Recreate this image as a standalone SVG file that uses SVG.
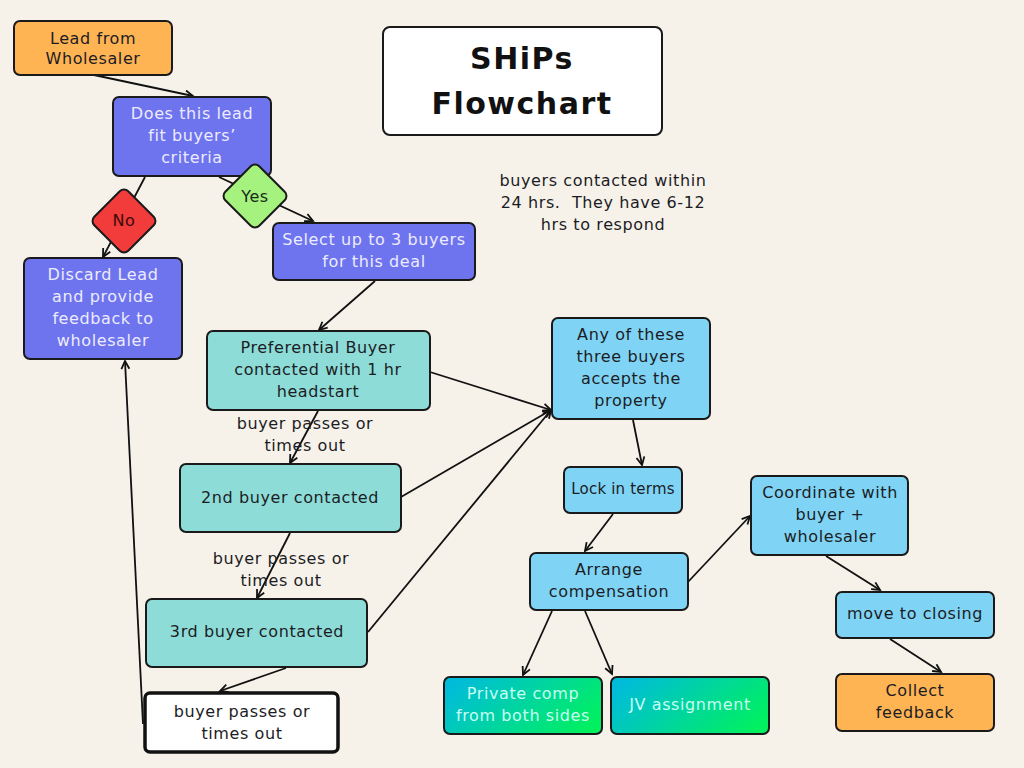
<svg xmlns="http://www.w3.org/2000/svg" width="1024" height="768" viewBox="0 0 1024 768">
<defs>
<marker id="arr" markerWidth="12" markerHeight="12" refX="9" refY="5" orient="auto" markerUnits="userSpaceOnUse">
<path d="M1,1 L9,5 L1,9" fill="none" stroke="#111" stroke-width="1.8"/>
</marker>
<linearGradient id="grad" x1="0" y1="0.3" x2="1" y2="0.7">
<stop offset="0" stop-color="#00bcd9"/>
<stop offset="1" stop-color="#00f060"/>
</linearGradient>
<style>
.box{stroke:#1a1a1a;stroke-width:2}
.orange{fill:#ffb454}
.purple{fill:#6e74ee}
.teal{fill:#8ddcd8}
.blue{fill:#7fd4f5}
.grad{fill:url(#grad)}
.t{font-family:"DejaVu Sans",sans-serif;font-size:16px;text-anchor:middle;letter-spacing:0.6px}
.dark{fill:#1c1c24}
.light{fill:#ecebff}
.gl{fill:#c8fff2}
.conn line{stroke:#111;stroke-width:1.8;marker-end:url(#arr)}
</style>
</defs>
<rect width="1024" height="768" fill="#f6f2ea"/>

<g class="conn" id="connectors">
<line x1="94" y1="75" x2="193" y2="96"/>
<line x1="145" y1="177" x2="103" y2="257"/>
<line x1="219" y1="177" x2="313" y2="221"/>
<line x1="375" y1="281" x2="319" y2="330"/>
<line x1="430" y1="372" x2="551" y2="410"/>
<line x1="318" y1="411" x2="290" y2="463"/>
<line x1="401" y1="497" x2="551" y2="410"/>
<line x1="290" y1="533" x2="257" y2="598"/>
<line x1="368" y1="632" x2="551" y2="410"/>
<line x1="286" y1="668" x2="220" y2="691"/>
<line x1="143" y1="724" x2="125" y2="361"/>
<line x1="633" y1="420" x2="642" y2="465"/>
<line x1="613" y1="514" x2="585" y2="551"/>
<line x1="688" y1="582" x2="750" y2="516"/>
<line x1="552" y1="611" x2="523" y2="675"/>
<line x1="585" y1="611" x2="612" y2="674"/>
<line x1="826" y1="556" x2="880" y2="590"/>
<line x1="890" y1="639" x2="941" y2="672"/>
</g>

<g id="title">
<rect x="383" y="27" width="279" height="108" rx="7" fill="#ffffff" class="box"/>
<text x="522" y="69" font-family="DejaVu Sans,sans-serif" font-size="30" font-weight="bold" text-anchor="middle" letter-spacing="1.5" fill="#111">SHiPs</text>
<text x="522" y="114" font-family="DejaVu Sans,sans-serif" font-size="30" font-weight="bold" text-anchor="middle" letter-spacing="1.5" fill="#111">Flowchart</text>
</g>

<g id="note">
<text class="t dark" x="603" y="186">buyers contacted within</text>
<text class="t dark" x="603" y="208" xml:space="preserve">24 hrs.  They have 6-12</text>
<text class="t dark" x="603" y="230">hrs to respond</text>
</g>

<g id="lead">
<rect x="14" y="21" width="158" height="54" rx="6" class="box orange"/>
<text class="t dark" x="93" y="44">Lead from</text>
<text class="t dark" x="93" y="64">Wholesaler</text>
</g>

<g id="fit">
<rect x="113" y="97" width="158" height="79" rx="6" class="box purple"/>
<text class="t light" x="192" y="119">Does this lead</text>
<text class="t light" x="192" y="141">fit buyers’</text>
<text class="t light" x="192" y="163">criteria</text>
</g>

<g id="no">
<rect x="100" y="197" width="48" height="48" rx="6" transform="rotate(45 124 221)" fill="#f23b3b" class="box"/>
<text class="t" x="124" y="226" fill="#3a0a0a">No</text>
</g>

<g id="yes">
<rect x="231" y="172" width="48" height="48" rx="6" transform="rotate(45 255 196)" fill="#a5f27e" class="box"/>
<text class="t" x="255" y="202" fill="#1a2a1a">Yes</text>
</g>

<g id="discard">
<rect x="24" y="258" width="158" height="101" rx="6" class="box purple"/>
<text class="t light" x="103" y="280">Discard Lead</text>
<text class="t light" x="103" y="302">and provide</text>
<text class="t light" x="103" y="324">feedback to</text>
<text class="t light" x="103" y="346">wholesaler</text>
</g>

<g id="select">
<rect x="273" y="223" width="202" height="57" rx="6" class="box purple"/>
<text class="t light" x="374" y="245">Select up to 3 buyers</text>
<text class="t light" x="374" y="267">for this deal</text>
</g>

<g id="preferential">
<rect x="207" y="331" width="223" height="79" rx="6" class="box teal"/>
<text class="t dark" x="318" y="353">Preferential Buyer</text>
<text class="t dark" x="318" y="375">contacted with 1 hr</text>
<text class="t dark" x="318" y="397">headstart</text>
</g>

<g id="label1">
<text class="t dark" x="305" y="429">buyer passes or</text>
<text class="t dark" x="305" y="451">times out</text>
</g>

<g id="second">
<rect x="180" y="464" width="221" height="68" rx="6" class="box teal"/>
<text class="t dark" x="290" y="503">2nd buyer contacted</text>
</g>

<g id="label2">
<text class="t dark" x="281" y="564">buyer passes or</text>
<text class="t dark" x="281" y="586">times out</text>
</g>

<g id="third">
<rect x="146" y="599" width="221" height="68" rx="6" class="box teal"/>
<text class="t dark" x="257" y="637">3rd buyer contacted</text>
</g>

<g id="passes">
<rect x="145" y="693" width="193" height="59" rx="5" fill="#ffffff" stroke="#111" stroke-width="3.5"/>
<text class="t dark" x="242" y="717">buyer passes or</text>
<text class="t dark" x="242" y="739">times out</text>
</g>

<g id="any">
<rect x="552" y="318" width="158" height="101" rx="6" class="box blue"/>
<text class="t dark" x="631" y="340">Any of these</text>
<text class="t dark" x="631" y="362">three buyers</text>
<text class="t dark" x="631" y="384">accepts the</text>
<text class="t dark" x="631" y="406">property</text>
</g>

<g id="lock">
<rect x="564" y="467" width="118" height="46" rx="6" class="box blue"/>
<text class="t dark" x="623" y="494" style="font-size:15px;letter-spacing:0.2px">Lock in terms</text>
</g>

<g id="coordinate">
<rect x="751" y="476" width="157" height="79" rx="6" class="box blue"/>
<text class="t dark" x="830" y="498">Coordinate with</text>
<text class="t dark" x="830" y="520">buyer +</text>
<text class="t dark" x="830" y="542">wholesaler</text>
</g>

<g id="arrange">
<rect x="530" y="553" width="158" height="57" rx="6" class="box blue"/>
<text class="t dark" x="609" y="575">Arrange</text>
<text class="t dark" x="609" y="597">compensation</text>
</g>

<g id="closing">
<rect x="836" y="592" width="158" height="46" rx="6" class="box blue"/>
<text class="t dark" x="915" y="619">move to closing</text>
</g>

<g id="private">
<rect x="444" y="677" width="158" height="57" rx="6" class="box grad"/>
<text class="t gl" x="523" y="699">Private comp</text>
<text class="t gl" x="523" y="721">from both sides</text>
</g>

<g id="jv">
<rect x="611" y="677" width="158" height="57" rx="6" class="box grad"/>
<text class="t gl" x="690" y="710">JV assignment</text>
</g>

<g id="collect">
<rect x="836" y="674" width="158" height="57" rx="6" class="box orange"/>
<text class="t dark" x="915" y="696">Collect</text>
<text class="t dark" x="915" y="718">feedback</text>
</g>
</svg>
